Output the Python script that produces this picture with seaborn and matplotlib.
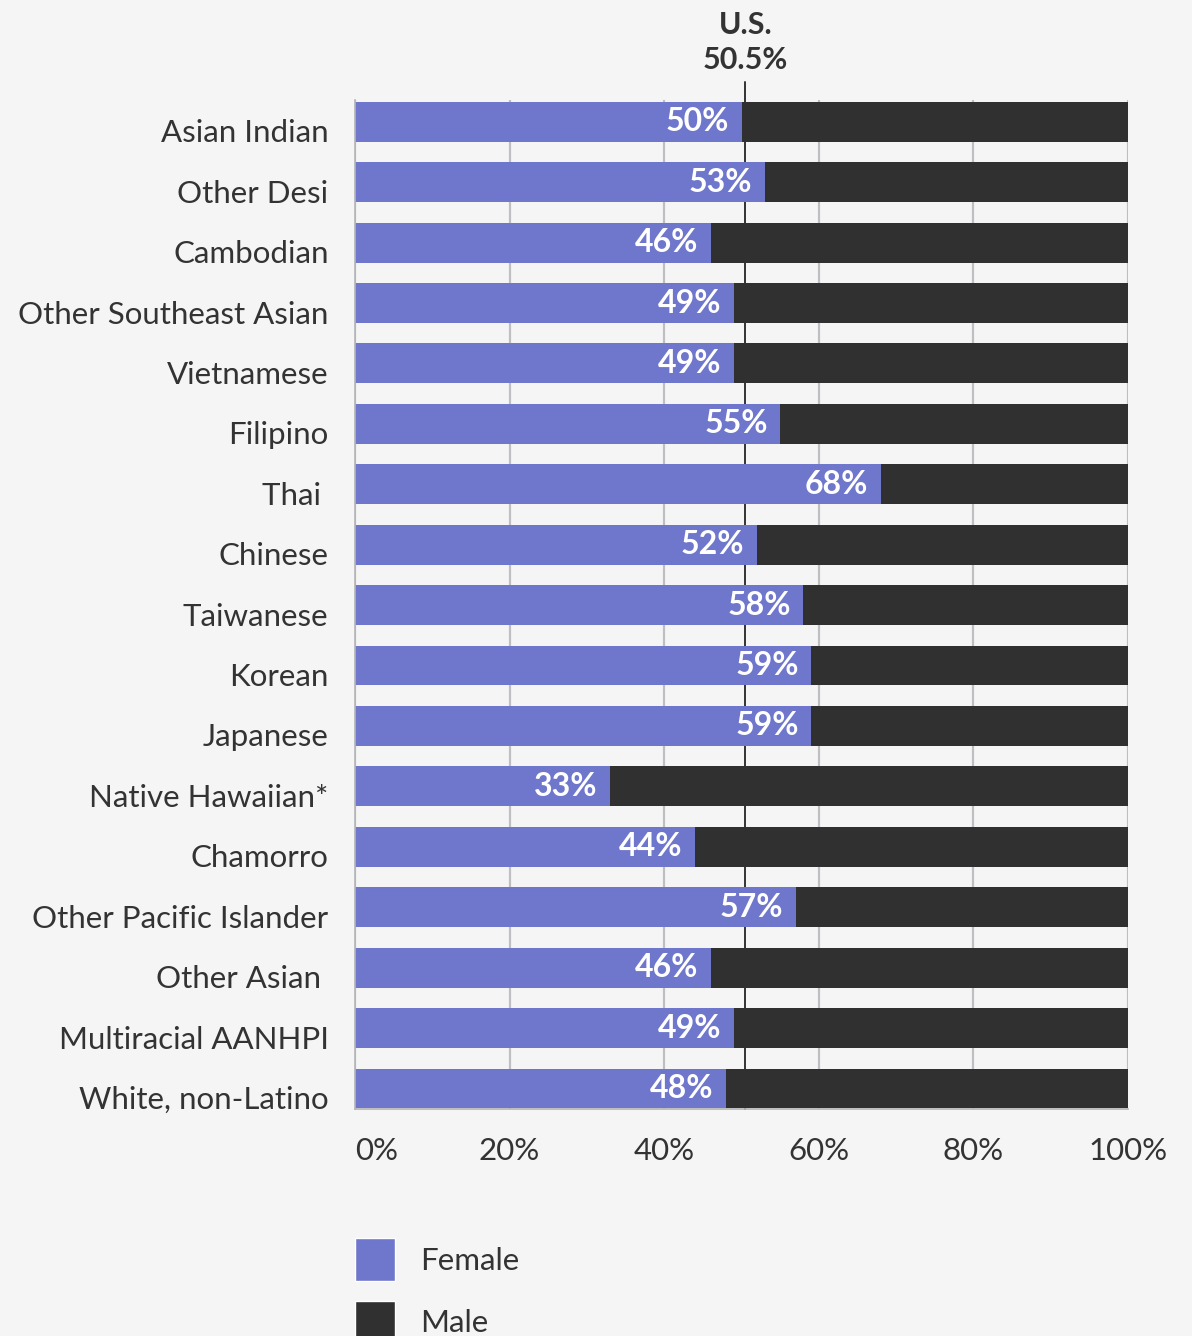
import pandas as pd
import matplotlib.pyplot as plt
import matplotlib.transforms as mtransforms
import seaborn as sns
from matplotlib.patches import Patch

# datos
grupos = ["Asian Indian", "Other Desi", "Cambodian", "Other Southeast Asian",
          "Vietnamese", "Filipino", "Thai ", "Chinese", "Taiwanese", "Korean",
          "Japanese", "Native Hawaiian*", "Chamorro", "Other Pacific Islander",
          "Other Asian ", "Multiracial AANHPI", "White, non-Latino"]
female = [50, 53, 46, 49, 49, 55, 68, 52, 58, 59, 59, 33, 44, 57, 46, 49, 48]
male = [100 - f for f in female]
us_female = 50.5
ticks = [0, 20, 40, 60, 80, 100]

df = pd.DataFrame({"grupo": grupos, "female": female, "male": male})
df["total"] = df["female"] + df["male"]

col_fem = "#6f77cc"
col_male = "#303030"
col_txt = "#333333"
fondo = "#f5f5f5"

sns.set_theme(style="whitegrid")
plt.rcParams["font.family"] = ["Lato", "DejaVu Sans"]

fig = plt.figure(figsize=(11.92, 13.36), dpi=100, facecolor=fondo)
ax = fig.add_axes([355 / 1192, 1 - 1109 / 1336, (1128 - 355) / 1192, 1009 / 1336])
ax.set_facecolor(fondo)

sns.barplot(data=df, y="grupo", x="total", color=col_male, orient="h",
            width=0.66, saturation=1, ax=ax, linewidth=0)
sns.barplot(data=df, y="grupo", x="female", color=col_fem, orient="h",
            width=0.66, saturation=1, ax=ax, linewidth=0)

for i, v in enumerate(female):
    ax.annotate(f"{v}%", (v, i), xytext=(-9, 0), textcoords="offset points",
                ha="right", va="center", color="white", fontsize=23,
                fontweight="bold")

ax.set_xlim(0, 100)
ax.set_ylim(16.34, -0.36)
ax.set_xticks(ticks)
ax.set_xticklabels([f"{t}%" for t in ticks])
ax.set_xlabel("")
ax.set_ylabel("")
ax.tick_params(axis="both", length=0, labelsize=22.5, labelcolor=col_txt)
ax.tick_params(axis="y", pad=19)
ax.tick_params(axis="x", pad=20)
ax.get_xticklabels()[0].set_horizontalalignment("left")

# etiquetas del eje y un poco más abajo que el centro de la barra
bajar = mtransforms.ScaledTranslation(0, -9 / 100, fig.dpi_scale_trans)
for lab in ax.get_yticklabels():
    lab.set_transform(lab.get_transform() + bajar)

ax.grid(axis="y", visible=False)
ax.grid(axis="x", color="#bfbfc3", linewidth=1.6)
ax.set_axisbelow(True)
for s in ["top", "right"]:
    ax.spines[s].set_visible(False)
for s in ["left", "bottom"]:
    ax.spines[s].set_color("#b5b5b8")
    ax.spines[s].set_linewidth(1.2)

# linea de referencia EE.UU. (detrás de las barras)
ax.axvline(us_female, ymin=0, ymax=1.018, color=col_txt, linewidth=1.4,
           clip_on=False, zorder=0.8)
ax.text(us_female, 1.026, f"U.S.\n{us_female}%", transform=ax.get_xaxis_transform(),
        ha="center", va="bottom", fontsize=22, fontweight="bold", color=col_txt,
        linespacing=1.3)

# leyenda
handles = [Patch(facecolor=col_fem, label="Female"),
           Patch(facecolor=col_male, label="Male")]
fig.legend(handles=handles, loc="upper left",
           bbox_to_anchor=(355 / 1192, 1 - 1238 / 1336), frameon=False,
           fontsize=22.5, handlelength=1.27, handleheight=1.75,
           handletextpad=0.8, labelspacing=0.62, borderpad=0, borderaxespad=0,
           labelcolor=col_txt)

plt.savefig("out.png", dpi=100, facecolor=fondo)
